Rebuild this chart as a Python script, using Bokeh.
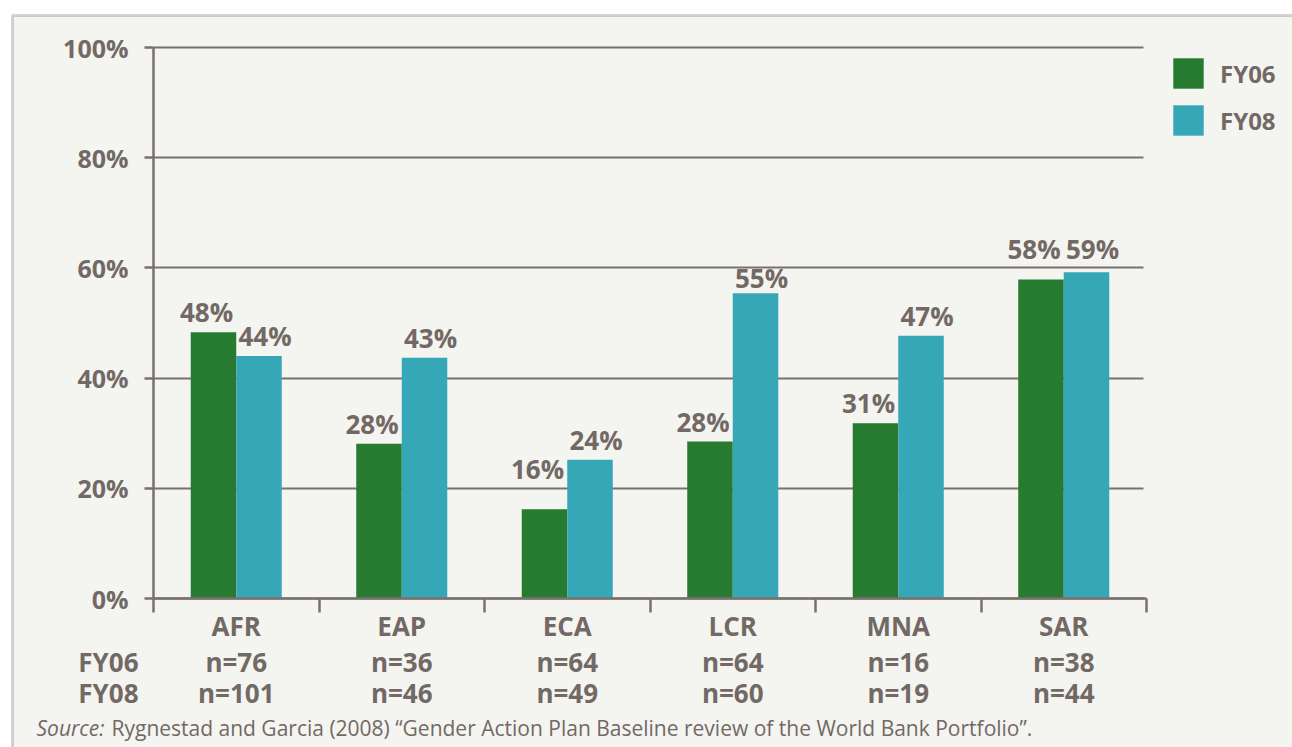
from bokeh.plotting import figure
from bokeh.models import (Range1d, FixedTicker, Legend, LegendItem, BoxAnnotation,
                          ColumnDataSource)
from bokeh.core.properties import value
from bokeh.embed import file_html
from bokeh.resources import INLINE

# ---------------- data ----------------
regions = ["AFR", "EAP", "ECA", "LCR", "MNA", "SAR"]
fy06 = [48.3, 28.1, 16.2, 28.5, 31.8, 57.9]
fy08 = [44.0, 43.7, 25.2, 55.4, 47.7, 59.2]
fy06_labels = ["48%", "28%", "16%", "28%", "31%", "58%"]
fy08_labels = ["44%", "43%", "24%", "55%", "47%", "59%"]
n_fy06 = ["n=76", "n=36", "n=64", "n=64", "n=16", "n=38"]
n_fy08 = ["n=101", "n=46", "n=49", "n=60", "n=19", "n=44"]
series = ["FY06", "FY08"]
y_ticks = [0, 20, 40, 60, 80, 100]
y_tick_labels = ["0%", "20%", "40%", "60%", "80%", "100%"]
source_italic = "Source:"
source_rest = "Rygnestad and Garcia (2008) \u201cGender Action Plan Baseline review of the World Bank Portfolio\u201d."

# ---------------- style ----------------
GREEN = "#267b30"
TEAL = "#36a7b6"
GREY = "#7a716c"
TEXT = "#726965"
BG = "#f4f4f0"
FONT = "Open Sans"
TICK = 25     # px, axis tick labels
BIG = 26      # px, bold labels
SMALL = 21    # px, source line
BASE_FIX = 0.42  # baseline correction (fraction of the font size)

W, H = 1292, 747
N = len(regions)
X0, X6 = 153.0, 1146.0      # pixel position of the category axis ends
Y0, Y100 = 598.0, 47.0      # pixel position of 0% and 100%
SX = (X6 - X0) / N
SY = (Y0 - Y100) / 100.0


def dx(px):  # pixel column -> data x
    return (px - X0) / SX


def dy(py):  # pixel row -> data y
    return (Y0 - py) / SY


def py_of(v):  # data y -> pixel row
    return Y0 - v * SY


def base(py, size):  # text baseline pixel row -> data y for the text glyph
    return dy(py - BASE_FIX * size)


def label_base(v):
    """Baseline row of a value label: above the bar, kept clear of gridlines."""
    top = py_of(v)
    cap = 0.71 * BIG
    b = top - 9
    for t in y_ticks:
        g = py_of(t)
        if b - cap - 3 <= g <= b + 5:
            if top - 3 - cap >= g + 2:
                b = top - 4          # fits between the gridline and the bar
            else:
                b = g - 8            # lift above the gridline
    return b


p = figure(width=W, height=H, x_range=Range1d(dx(0), dx(W)), y_range=Range1d(dy(H), dy(0)),
           output_backend="svg", toolbar_location=None,
           min_border_left=0, min_border_right=0, min_border_top=0, min_border_bottom=0)
p.border_fill_color = "white"
p.background_fill_color = "white"
p.outline_line_color = None

# outer panel (cut by the page edge on the right and bottom)
box = BoxAnnotation(left=dx(12), right=dx(W + 20), top=dy(15), bottom=dy(H + 20),
                    fill_color=BG, fill_alpha=1.0, line_color=GREY, line_width=3,
                    level="underlay")
p.center = [box] + list(p.center)

# axes drawn at the data origin
p.xaxis.fixed_location = 0
p.xaxis.bounds = (0, N)
p.xaxis.ticker = FixedTicker(ticks=list(range(N + 1)))
p.xaxis.major_label_overrides = {i: "" for i in range(N + 1)}
p.xaxis.major_tick_out = 14
p.xaxis.major_tick_in = 0
p.xaxis.minor_tick_line_color = None
p.xaxis.axis_line_color = GREY
p.xaxis.major_tick_line_color = GREY
p.xaxis.axis_line_width = 2.5
p.xaxis.major_tick_line_width = 2.5

p.yaxis.fixed_location = 0
p.yaxis.bounds = (0, 100)
p.yaxis.ticker = FixedTicker(ticks=y_ticks)
p.yaxis.major_label_overrides = dict(zip(y_ticks, y_tick_labels))
p.yaxis.major_tick_out = 9
p.yaxis.major_tick_in = 0
p.yaxis.minor_tick_line_color = None
p.yaxis.axis_line_color = GREY
p.yaxis.major_tick_line_color = GREY
p.yaxis.axis_line_width = 2.5
p.yaxis.major_tick_line_width = 2.5
p.yaxis.major_label_standoff = 16
p.yaxis.major_label_text_font = FONT
p.yaxis.major_label_text_font_style = "bold"
p.yaxis.major_label_text_font_size = f"{TICK}px"
p.yaxis.major_label_text_color = TEXT

p.xgrid.visible = False
grid = p.ygrid[0]
grid.ticker = FixedTicker(ticks=y_ticks)
grid.grid_line_color = GREY
grid.grid_line_width = 2
if "cross_bounds" in grid.properties():
    grid.cross_bounds = (0, dx(1143))
else:
    grid.visible = False
    p.yaxis.major_tick_in = int(1143 - X0)

# bars
BW = 0.275
x06 = [i + 0.5 - BW / 2 for i in range(N)]
x08 = [i + 0.5 + BW / 2 for i in range(N)]
r06 = p.vbar(x=x06, top=fy06, width=BW, fill_color=GREEN, line_color=None)
r08 = p.vbar(x=x08, top=fy08, width=BW, fill_color=TEAL, line_color=None)

TXT = dict(text_font=value(FONT), text_color=TEXT, text_baseline="alphabetic")

# value labels above the bars (nudged apart a little, as in the original)
lab_src = ColumnDataSource(dict(
    x=[x - 7 / SX for x in x06] + [x + 6 / SX for x in x08],
    y=[base(label_base(v), BIG) for v in fy06 + fy08],
    t=fy06_labels + fy08_labels))
p.text(x="x", y="y", text="t", source=lab_src, text_align="center",
       text_font_style="bold", text_font_size=f"{BIG}px", **TXT)

# category and sample-size rows below the axis
centers = [i + 0.5 for i in range(N)]
for labels, row in [(regions, 636), (n_fy06, 672), (n_fy08, 703)]:
    p.text(x=centers, y=[base(row, BIG)] * N, text=labels, text_align="center",
           text_font_style="bold", text_font_size=f"{BIG}px", **TXT)
p.text(x=[dx(138)] * 2, y=[base(672, BIG), base(703, BIG)], text=series,
       text_align="right", text_font_style="bold", text_font_size=f"{BIG}px", **TXT)

# source line
p.text(x=[dx(36)], y=[base(736, SMALL)], text=[source_italic], text_align="left",
       text_font_style="italic", text_font_size=f"{SMALL}px", **TXT)
p.text(x=[dx(111)], y=[base(736, SMALL)], text=[source_rest], text_align="left",
       text_font_style="normal", text_font_size=f"{SMALL}px", **TXT)

# legend (area legend glyphs are inset by 10% on each side)
legend = Legend(items=[LegendItem(label=series[0], renderers=[r06]),
                       LegendItem(label=series[1], renderers=[r08])],
                location=(1169, H - 139), glyph_width=38, glyph_height=38, label_height=38,
                spacing=9, padding=0, margin=0, label_standoff=13,
                border_line_color=None, background_fill_alpha=0,
                label_text_font=FONT, label_text_font_style="bold",
                label_text_font_size="24px", label_text_color=TEXT,
                label_text_baseline="middle")
p.add_layout(legend)

open("out.html", "w").write(file_html(p, INLINE))
